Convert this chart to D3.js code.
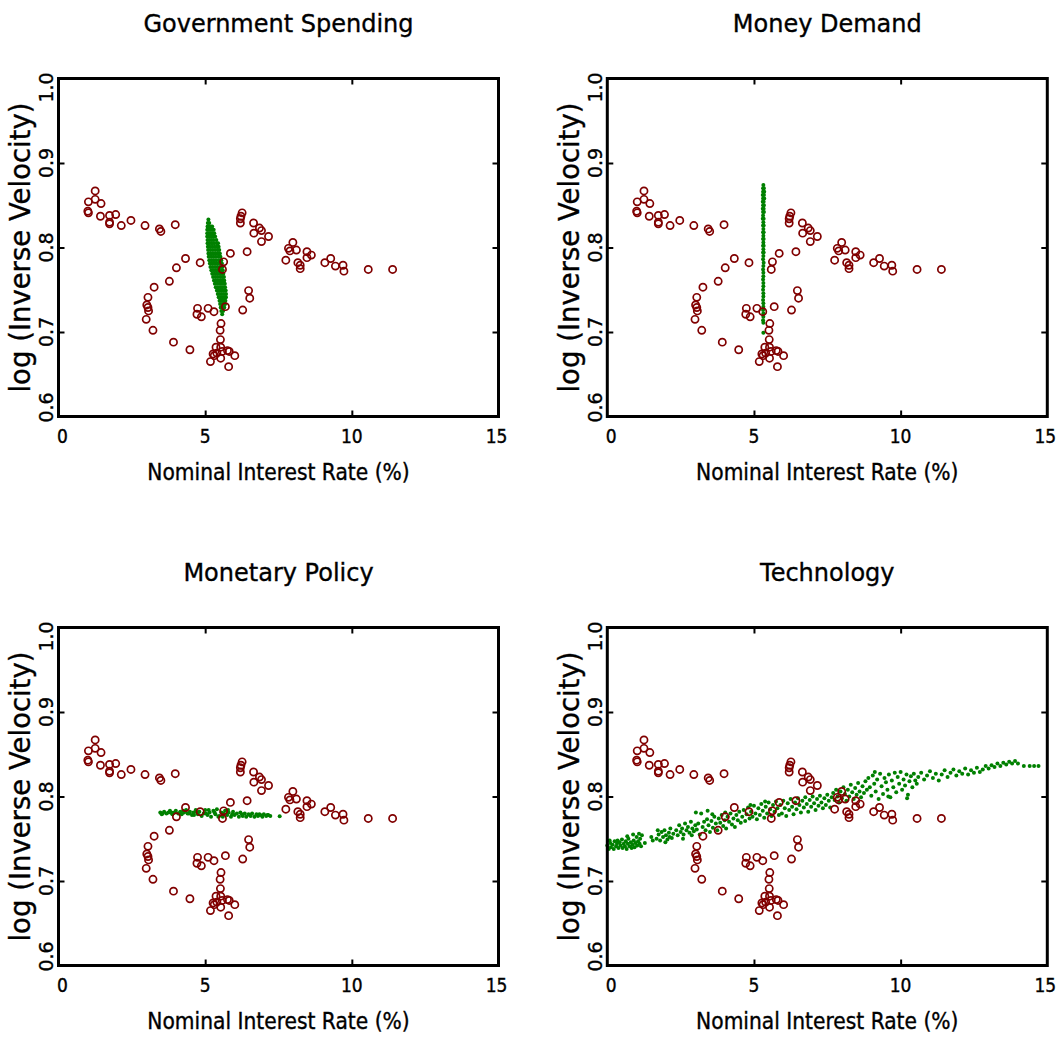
<!DOCTYPE html>
<html>
<head>
<meta charset="utf-8">
<script src="https://cdn.jsdelivr.net/npm/d3@7"></script>
<style>
  body { margin: 0; background: #fff; }
  text { fill: #000; stroke: #000; stroke-width: 0.35px; }
  .title { font-family: "DejaVu Sans", sans-serif; font-size: 24px; }
  .xlabel { font-family: "DejaVu Sans Condensed", "DejaVu Sans", sans-serif; font-stretch: condensed; font-size: 22.5px; }
  .ylabel { font-family: "DejaVu Sans", sans-serif; font-size: 27.5px; }
  .xtick { font-family: "Liberation Sans Narrow", "DejaVu Sans Condensed", sans-serif; font-stretch: condensed; font-size: 19px; }
  .ytick { font-family: "DejaVu Sans", sans-serif; font-size: 19px; }
</style>
</head>
<body>
<script>
// Titles and ticks
const panelTitles = ["Government Spending", "Money Demand", "Monetary Policy", "Technology"];
const xTicks = [0, 5, 10, 15];
const yTicks = [0.6, 0.7, 0.8, 0.9, 1.0];
const xLabel = "Nominal Interest Rate (%)";
const yLabel = "log (Inverse Velocity)";

// Observed data (red circles), same in every panel
const dataRate = [
    1.25, 1.25, 1.02, 1.45, 1.00, 1.02, 1.43, 1.74, 1.95, 1.74, 1.74, 2.14, 2.47, 2.95, 3.44, 3.49, 3.98,
    6.26, 6.22, 6.20, 6.20, 6.65, 6.85, 6.92, 6.66, 7.16, 6.92, 7.99, 7.84, 7.89, 8.11, 8.47, 8.62, 8.47,
    7.75, 8.16, 8.24, 8.24, 9.08, 9.28, 9.44, 9.70, 9.73, 10.56, 11.39, 6.43, 5.86, 5.63, 5.59, 4.83,
    4.33, 4.02, 3.78, 3.26, 3.05, 3.01, 3.05, 3.07, 2.99, 3.22, 3.92, 4.48, 6.48, 6.52, 6.28, 5.69,
    4.74, 5.10, 5.30, 4.72, 4.87, 5.54, 5.51, 5.52,
    5.37, 5.53, 5.27, 5.31, 5.40, 5.58, 5.76, 5.82, 6.01, 5.53, 5.18, 5.80
];
const dataVel = [
    .867, .857, .854, .852, .843, .841, .837, .838, .839, .830, .828, .826, .832, .826, .822, .819, .827,
    .841, .837, .834, .829, .829, .823, .820, .817, .813, .807, .806, .799, .796, .797, .795, .791, .788,
    .785, .782, .779, .775, .782, .787, .778, .779, .772, .774, .774, .795, .793, .783, .774, .782,
    .787, .776, .760, .753, .741, .732, .729, .725, .715, .702, .688, .679, .749, .740, .726, .730,
    .728, .728, .724, .721, .718, .710, .702, .691,
    .682, .682, .674, .672, .675, .677, .678, .677, .672, .669, .665, .659
];

// Simulated points (green), [rate, log inverse velocity]
const govSim = [
    [5.11,.833],[5.09,.829],[5.14,.829],[5.08,.825],[5.13,.825],[5.19,.825],[5.24,.825],
    [5.07,.821],[5.12,.821],[5.18,.821],[5.24,.821],[5.29,.821],
    [5.07,.817],[5.13,.817],[5.19,.817],[5.25,.817],[5.31,.817],
    [5.07,.813],[5.13,.813],[5.20,.813],[5.27,.813],[5.34,.813],
    [5.08,.809],[5.15,.809],[5.22,.809],[5.29,.809],[5.38,.809],
    [5.08,.805],[5.15,.805],[5.23,.805],[5.31,.805],[5.40,.805],[5.44,.805],
    [5.09,.801],[5.16,.801],[5.24,.801],[5.32,.801],[5.40,.801],[5.46,.801],
    [5.10,.797],[5.18,.797],[5.26,.797],[5.34,.797],[5.42,.797],[5.48,.797],
    [5.11,.793],[5.19,.793],[5.27,.793],[5.35,.793],[5.43,.793],[5.50,.793],
    [5.12,.789],[5.20,.789],[5.28,.789],[5.36,.789],[5.45,.789],[5.52,.789],
    [5.14,.785],[5.22,.785],[5.30,.785],[5.38,.785],[5.47,.785],[5.55,.785],
    [5.16,.781],[5.24,.781],[5.32,.781],[5.40,.781],[5.49,.781],[5.57,.781],
    [5.18,.777],[5.26,.777],[5.34,.777],[5.42,.777],[5.50,.777],[5.58,.777],
    [5.21,.773],[5.29,.773],[5.37,.773],[5.45,.773],[5.53,.773],[5.60,.773],
    [5.24,.769],[5.32,.769],[5.40,.769],[5.48,.769],[5.55,.769],[5.62,.769],
    [5.27,.765],[5.35,.765],[5.43,.765],[5.51,.765],[5.58,.765],[5.64,.765],
    [5.30,.761],[5.38,.761],[5.46,.761],[5.53,.761],[5.60,.761],[5.65,.761],
    [5.33,.757],[5.41,.757],[5.49,.757],[5.56,.757],[5.63,.757],[5.67,.757],
    [5.36,.753],[5.44,.753],[5.52,.753],[5.59,.753],[5.68,.753],
    [5.40,.749],[5.47,.749],[5.55,.749],[5.62,.749],[5.70,.749],
    [5.43,.745],[5.50,.745],[5.57,.745],[5.64,.745],[5.71,.745],
    [5.46,.741],[5.53,.741],[5.60,.741],[5.67,.741],[5.71,.741],
    [5.49,.737],[5.56,.737],[5.63,.737],[5.69,.737],
    [5.51,.733],[5.58,.733],[5.64,.733],[5.68,.733],
    [5.53,.729],[5.59,.729],[5.65,.729],[5.55,.725],[5.61,.725],[5.58,.721]
];
const moneySim = [
    [5.32,.874],[5.31,.870],[5.34,.870],[5.31,.866],[5.35,.866],[5.30,.862],[5.34,.862],
    [5.31,.858],[5.35,.858],[5.30,.854],[5.33,.854],[5.31,.850],[5.34,.850],[5.30,.846],
    [5.33,.846],[5.31,.842],[5.34,.842],[5.31,.838],[5.30,.834],[5.33,.834],[5.32,.830],
    [5.31,.826],[5.33,.826],[5.32,.822],[5.31,.818],[5.33,.818],[5.32,.814],[5.31,.810],
    [5.33,.810],[5.32,.806],[5.31,.802],[5.33,.802],[5.32,.798],[5.31,.794],[5.33,.794],
    [5.32,.790],[5.31,.786],[5.33,.782],[5.32,.778],[5.31,.774],[5.32,.770],[5.32,.766],
    [5.31,.762],[5.32,.758],[5.32,.754],[5.31,.750],[5.32,.746],[5.32,.742],[5.31,.738],
    [5.32,.734],[5.32,.730],[5.31,.726],[5.32,.722],[5.32,.718],[5.31,.714],[5.32,.711],
    [5.32,.699]
];
const policySim = [
    [3.47,.781],[3.55,.780],[3.60,.782],[3.68,.780],[3.75,.781],[3.80,.783],[3.88,.779],
    [3.95,.781],[4.00,.783],[4.08,.780],[4.15,.782],[4.20,.779],[4.28,.781],[4.35,.784],
    [4.40,.780],[4.48,.782],[4.55,.778],[4.60,.781],[4.68,.784],[4.75,.779],[4.80,.782],
    [4.88,.777],[4.95,.780],[5.00,.784],[5.08,.778],[5.15,.781],[5.20,.776],[5.28,.783],
    [5.35,.779],[5.40,.785],[5.48,.777],[5.55,.781],[5.60,.776],[5.68,.783],[5.75,.778],
    [5.80,.781],[5.88,.776],[5.95,.782],[6.00,.778],[6.08,.780],[6.15,.776],[6.20,.781],
    [6.28,.777],[6.35,.780],[6.40,.776],[6.48,.779],[6.55,.777],[6.60,.780],[6.68,.776],
    [6.75,.779],[6.80,.777],[6.88,.778],[6.95,.776],[7.00,.779],[7.08,.777],[7.15,.778],
    [7.22,.777],[7.54,.7765],
    [3.52,.779],[3.85,.781],[4.12,.780],[4.45,.780],[4.72,.781],[5.03,.780],[5.32,.781],
    [5.62,.780],[5.92,.779],[6.25,.779],[6.52,.778],[6.85,.779],[7.12,.778],[4.25,.783],
    [4.62,.778],[5.12,.784],[5.45,.776],[5.78,.784]
];
const techSim = [
    [0.00,.742],[0.05,.738],[0.10,.745],[0.12,.740],[0.18,.743],[0.22,.738],[0.25,.747],
    [0.30,.741],[0.33,.744],[0.38,.739],[0.42,.746],[0.45,.742],[0.50,.749],[0.52,.739],
    [0.56,.744],[0.60,.741],[0.63,.747],[0.66,.738],[0.70,.744],[0.72,.750],[0.76,.741],
    [0.80,.746],[0.83,.739],[0.86,.743],[0.90,.748],[0.93,.740],[0.96,.745],[1.00,.752],
    [1.02,.742],[1.05,.747],[1.08,.756],[1.10,.744],[1.12,.750],[1.15,.741],[1.18,.754],
    [0.08,.748],[0.35,.748],[0.68,.753],[0.88,.755],
    [1.28,.745],[1.50,.752],[1.55,.748],[1.68,.750],[1.75,.755],[1.80,.748],[1.85,.758],
    [1.90,.752],[1.95,.760],[2.00,.754],[2.05,.749],[2.10,.757],[2.15,.762],[2.20,.751],
    [2.25,.756],[1.72,.760],[1.98,.746],[2.12,.752],
    [2.35,.760],[2.40,.754],[2.45,.766],[2.50,.758],[2.55,.762],[2.60,.755],[2.65,.768],
    [2.70,.760],[2.75,.764],[2.80,.757],[2.85,.770],[2.90,.762],[2.95,.759],[3.00,.766],
    [3.05,.761],[3.10,.768],[3.15,.755],[3.02,.781],[3.20,.780],[3.42,.783],[2.58,.750],
    [2.88,.754],
    [3.25,.764],[3.30,.770],[3.35,.760],[3.40,.773],[3.45,.766],[3.50,.758],[3.55,.771],
    [3.60,.763],[3.65,.776],[3.70,.768],[3.75,.760],[3.80,.774],[3.85,.769],[3.90,.778],
    [3.95,.765],[4.00,.772],[4.05,.762],[4.10,.776],[4.15,.770],[4.20,.780],[4.25,.767],
    [4.30,.774],[4.35,.764],[4.40,.778],[4.45,.772],[4.50,.782],[4.55,.769],[3.58,.779],
    [4.02,.781],
    [4.60,.776],[4.65,.784],[4.70,.771],[4.75,.779],[4.80,.787],[4.85,.774],[4.90,.782],
    [4.95,.776],[5.00,.789],[5.05,.780],[5.10,.773],[5.15,.786],[5.20,.778],[5.25,.791],
    [5.30,.783],[5.35,.775],[5.40,.788],[5.45,.780],[5.50,.793],[5.55,.785],[5.60,.777],
    [5.65,.790],[5.70,.782],[5.75,.794],[5.80,.786],[5.85,.778],[4.88,.790],[5.38,.794],
    [5.90,.790],[5.95,.780],[6.00,.795],[6.05,.786],[6.10,.777],[6.15,.792],[6.20,.784],
    [6.25,.797],[6.30,.788],[6.35,.779],[6.40,.793],[6.45,.785],[6.50,.798],[6.55,.790],
    [6.60,.781],[6.65,.795],[6.70,.787],[6.75,.799],[6.80,.791],[6.85,.782],[6.90,.796],
    [6.95,.788],[7.00,.800],[7.05,.792],[7.10,.784],[7.15,.797],[7.20,.789],[7.25,.801],
    [7.30,.793],[7.35,.786],[7.40,.798],[7.45,.790],[7.50,.802],[7.55,.795],[7.60,.787],
    [7.65,.799],
    [7.70,.804],[7.75,.796],[7.80,.808],[7.85,.800],[7.90,.793],[7.95,.806],[8.00,.798],
    [8.05,.811],[8.10,.803],[8.15,.795],[8.20,.808],[8.25,.800],[8.30,.814],[8.35,.805],
    [8.40,.797],[8.45,.810],[8.50,.802],[8.55,.816],[8.60,.806],[8.65,.799],[8.70,.812],
    [8.75,.804],[8.80,.818],[8.85,.808],
    [8.90,.822],[8.95,.811],[9.00,.801],[9.05,.825],[9.10,.815],[9.15,.806],[9.20,.820],
    [9.25,.797],[9.30,.827],[9.35,.812],[9.40,.803],[9.45,.822],[9.50,.817],[9.55,.808],
    [9.60,.826],[9.65,.799],[9.70,.819],[9.75,.811],[9.80,.828],[9.85,.805],[9.90,.823],
    [9.95,.815],[10.00,.829],[10.05,.808],[10.10,.820],[10.15,.813],[10.20,.826],[10.25,.802],
    [10.30,.818],[10.35,.824],[10.40,.811],[10.45,.827],[10.50,.819],[10.55,.815],[9.12,.829],
    [9.58,.800],[10.22,.798],
    [10.60,.823],[10.70,.828],[10.80,.820],[10.90,.825],[11.00,.830],[11.10,.822],[11.20,.827],
    [11.30,.819],[11.40,.826],[11.50,.831],[11.60,.823],[11.70,.828],[11.80,.832],[11.90,.825],
    [12.00,.830],[12.10,.827],[12.20,.833],[12.30,.826],[12.40,.831],[12.50,.828],[12.60,.834],
    [12.70,.829],[12.80,.832],[12.90,.836],
    [13.00,.833],[13.10,.837],[13.20,.835],[13.30,.839],[13.40,.836],[13.50,.840],[13.60,.838],
    [13.70,.841],[13.80,.839],[13.90,.842],[14.00,.839],[14.20,.836],[14.40,.836],[14.55,.836],
    [14.70,.836]
];
const simSets = [govSim, moneySim, policySim, techSim];

// Layout
const width = 1060, height = 1038;
const panelLeft = [58.5, 607.3, 58.5, 607.3];
const panelTop = [78.5, 78.5, 627.5, 627.5];
const plotW = 440, plotH = 338;
const red = "#800000", green = "#008000";

const svg = d3.select("body").append("svg")
    .attr("width", width).attr("height", height)
    .style("display", "block").style("background", "#fff");

const observed = d3.zip(dataRate, dataVel);

panelTitles.forEach((title, i) => {
    const L = panelLeft[i], T = panelTop[i];
    const x = d3.scaleLinear().domain([0, 15]).range([L, L + plotW]);
    const y = d3.scaleLinear().domain([0.6, 1.0]).range([T + plotH, T]);
    const g = svg.append("g");

    // Simulated cloud
    g.append("g").selectAll("circle")
        .data(simSets[i])
        .join("circle")
        .attr("cx", d => x(d[0]))
        .attr("cy", d => y(d[1]))
        .attr("r", 2)
        .attr("fill", green);

    // Observed data as open circles
    g.append("g").selectAll("circle")
        .data(observed)
        .join("circle")
        .attr("cx", d => x(d[0]))
        .attr("cy", d => y(d[1]))
        .attr("r", 3.6)
        .attr("fill", "none")
        .attr("stroke", red)
        .attr("stroke-width", 1.7);

    // Inward ticks on all four sides
    const inner = [5, 10], innerY = [0.7, 0.8, 0.9];
    const axes = [
        [d3.axisBottom(x).tickValues(inner), `translate(0,${T + plotH})`],
        [d3.axisTop(x).tickValues(inner), `translate(0,${T})`],
        [d3.axisLeft(y).tickValues(innerY), `translate(${L},0)`],
        [d3.axisRight(y).tickValues(innerY), `translate(${L + plotW},0)`]
    ];
    axes.forEach(([ax, tr]) => {
        const a = g.append("g").attr("transform", tr)
            .call(ax.tickSizeInner(-6).tickSizeOuter(0).tickFormat(""));
        a.select(".domain").remove();
        a.selectAll("line").attr("stroke", "#000").attr("stroke-width", 2);
    });

    // Box
    g.append("rect")
        .attr("x", L).attr("y", T)
        .attr("width", plotW).attr("height", plotH)
        .attr("fill", "none").attr("stroke", "#000").attr("stroke-width", 3);

    // X tick labels (end labels sit slightly inside)
    g.selectAll(".xtick")
        .data(xTicks)
        .join("text")
        .attr("class", "xtick")
        .attr("x", d => x(d) + (d === 0 ? 4 : d === 15 ? -2 : 0))
        .attr("y", T + plotH + 26.5)
        .attr("text-anchor", "middle")
        .text(d => d);

    // Y tick labels, rotated
    g.selectAll(".ytick")
        .data(yTicks)
        .join("text")
        .attr("class", "ytick")
        .attr("transform", d => {
            const yy = y(d) + (d === 1.0 ? 9 : d === 0.6 ? -9 : 0);
            return `translate(${L - 5.5},${yy}) rotate(-90)`;
        })
        .attr("text-anchor", "middle")
        .text(d => d.toFixed(1));

    // Axis labels and title
    g.append("text")
        .attr("class", "xlabel")
        .attr("x", L + plotW / 2).attr("y", T + plotH + 63)
        .attr("text-anchor", "middle")
        .text(xLabel);

    g.append("text")
        .attr("class", "ylabel")
        .attr("transform", `translate(${L - 28.5},${T + plotH / 2}) rotate(-90)`)
        .attr("text-anchor", "middle")
        .text(yLabel);

    g.append("text")
        .attr("class", "title")
        .attr("x", L + plotW / 2).attr("y", T - 47)
        .attr("text-anchor", "middle")
        .text(title);
});
</script>
</body>
</html>
